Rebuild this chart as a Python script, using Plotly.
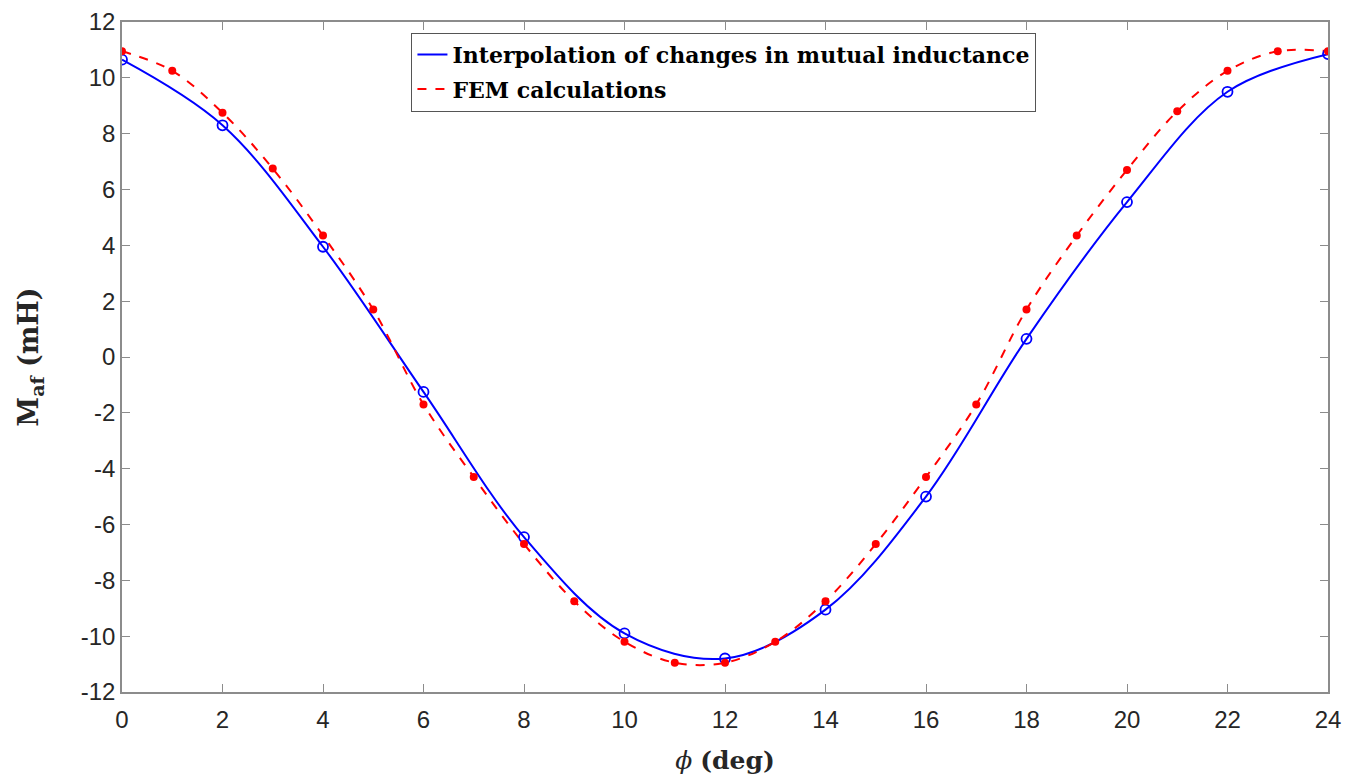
import plotly.graph_objects as go

# Data
phi_interp = [0, 2, 4, 6, 8, 10, 12, 14, 16, 18, 20, 22, 24]
m_interp = [10.65, 8.3, 3.95, -1.25, -6.45, -9.9, -10.8, -9.05, -5.0, 0.65, 5.55, 9.5, 10.85]

phi_fem = list(range(0, 25))
m_fem = [10.95, 10.25, 8.75, 6.75, 4.35, 1.7, -1.7, -4.3, -6.7, -8.75, -10.2, -10.95, -10.95,
         -10.2, -8.75, -6.7, -4.3, -1.7, 1.7, 4.35, 6.7, 8.8, 10.25, 10.95, 10.95]

x_ticks = list(range(0, 25, 2))
y_ticks = list(range(-12, 13, 2))

series_names = ["Interpolation of changes in mutual inductance", "FEM calculations"]

BLUE = "#0000ff"
RED = "#ff0000"
SERIF = "DejaVu Serif, serif"

fig = go.Figure()
fig.add_trace(go.Scatter(x=phi_interp, y=m_interp, mode="lines", legendgroup="a",
                         line=dict(color=BLUE, width=2, shape="spline", smoothing=1.0),
                         name="<b>" + series_names[0] + "</b>"))
fig.add_trace(go.Scatter(x=phi_fem, y=m_fem, mode="lines", legendgroup="b",
                         line=dict(color=RED, width=2, dash="dash", shape="spline", smoothing=1.0),
                         name="<b>" + series_names[1] + "</b>"))
fig.add_trace(go.Scatter(x=phi_interp, y=m_interp, mode="markers", showlegend=False,
                         marker=dict(symbol="circle-open", size=10, color=BLUE, line=dict(width=1.8, color=BLUE))))
fig.add_trace(go.Scatter(x=phi_fem, y=m_fem, mode="markers", showlegend=False,
                         marker=dict(symbol="circle", size=8, color=RED)))

axis_common = dict(showgrid=False, zeroline=False, showline=True, linecolor="#8c8c8c", linewidth=1.5,
                   mirror="ticks", ticks="inside", ticklen=8, tickcolor="#8c8c8c", tickwidth=1,
                   automargin=False,
                   tickfont=dict(family="Liberation Sans, Arial, sans-serif", size=24, color="#262626"))

fig.update_xaxes(range=[0, 24], tickvals=x_ticks, ticktext=[str(v) for v in x_ticks], ticklabelstandoff=5,
                 title=dict(text="<i>ϕ</i> <b>(deg)</b>", font=dict(family=SERIF, size=25, color="#262626"), standoff=20),
                 **axis_common)
fig.update_yaxes(range=[-12, 12], tickvals=y_ticks, ticktext=[str(v) for v in y_ticks],
                 title=dict(text="<b>M<sub>af</sub> (mH)</b>", font=dict(family=SERIF, size=27, color="#262626"), standoff=34),
                 **axis_common)

fig.update_layout(
    width=1358, height=778,
    margin=dict(l=122, r=30, t=22, b=86),
    plot_bgcolor="white", paper_bgcolor="white",
    legend=dict(x=0.240, y=0.984, xanchor="left", yanchor="top",
                bgcolor="white", bordercolor="#555555", borderwidth=1,
                font=dict(family=SERIF, size=22, color="black"),
                tracegroupgap=3, itemwidth=30),
    showlegend=True,
)

fig.write_html("out.html")
